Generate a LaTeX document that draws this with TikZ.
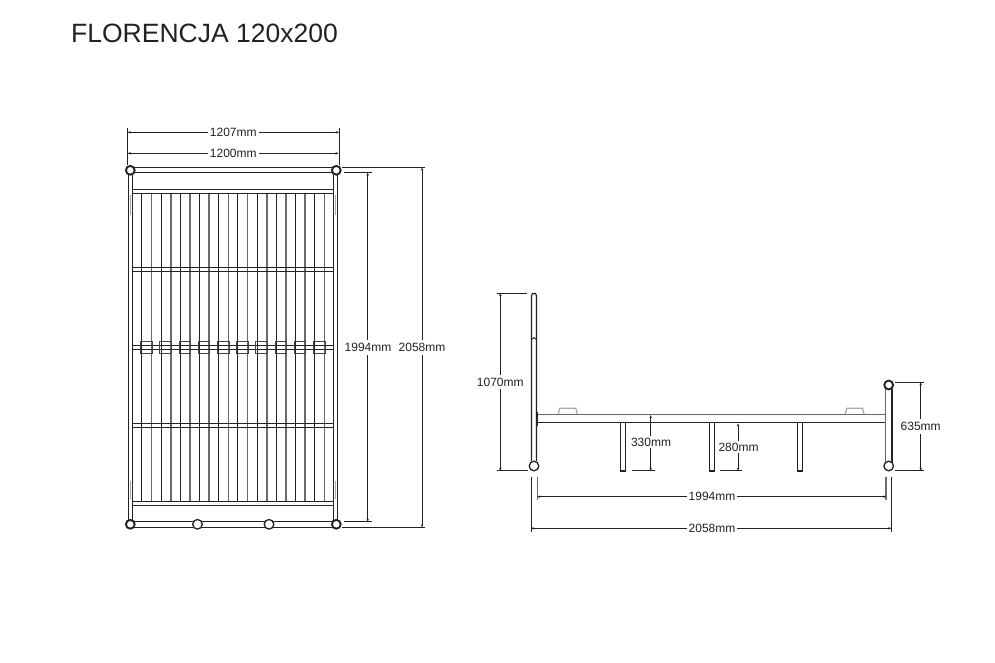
\documentclass[tikz,border=0pt]{standalone}
\usepackage{fontspec}
\setmainfont{Liberation Sans}
\usetikzlibrary{arrows.meta}
\definecolor{ink}{HTML}{222222}
\definecolor{midgray}{HTML}{6A6A6A}
\definecolor{softgray}{HTML}{A8A8A8}
\tikzset{
  part/.style={draw=ink,line width=1.1pt},
  thinpart/.style={draw=ink,line width=0.95pt},
  graypart/.style={draw=midgray,line width=1.6pt},
  softpart/.style={draw=softgray,line width=1.2pt},
  dim/.style={draw=ink,line width=0.95pt},
  dimtip/.style={dim,{Stealth[length=3pt,width=2.4pt]}-{Stealth[length=3pt,width=2.4pt]}},
  dimlabel/.style={fill=white,inner xsep=2pt,inner ysep=3pt,font=\fontsize{12}{12}\selectfont,text=ink},
  joint/.style={draw=ink,line width=1.3pt,fill=white,circle,minimum size=9.6pt,inner sep=0pt},
  heavyjoint/.style={draw=ink,line width=1.9pt,fill=white,circle,minimum size=8.8pt,inner sep=0pt},
  clip part/.style={draw=ink!85,line width=0.9pt,fill=none},
}
\begin{document}
\begin{tikzpicture}[x=1pt,y=-1pt]
\useasboundingbox (0,0) rectangle (995,663);
\node[anchor=west,inner sep=0pt,font=\fontsize{26.5}{27}\selectfont,text=ink] (title) at (71,33) {FLORENCJA 120x200};

% ---------- plan view ----------
% slats
\foreach \i in {1,...,20}{
  \pgfmathsetmacro{\sx}{132.3+9.6*\i}
  \pgfmathtruncatemacro{\odd}{mod(\i,2)}
  \ifnum\odd=1
    \draw[thinpart] (\sx,193.3) -- (\sx,501.7);
  \else
    \draw[graypart] (\sx,193.3) -- (\sx,501.7);
  \fi
}
% outer frame
\draw[part] (128.5,170) -- (128.5,524);
\draw[part] (132.5,172.7) -- (132.5,521.7);
\draw[part] (333.5,172.7) -- (333.5,521.7);
\draw[part] (337.5,170) -- (337.5,524);
\draw[part] (130,167.5) -- (336.5,167.5);
\draw[part] (130,172.5) -- (336.5,172.5);
\draw[part] (130,521.5) -- (336.5,521.5);
\draw[part] (130,527.5) -- (336.5,527.5);
% head and foot bars
\draw[part] (132.5,189.5) -- (333.5,189.5);
\draw[part] (132.5,193.5) -- (333.5,193.5);
\draw[part] (132.5,501.5) -- (333.5,501.5);
\draw[part] (132.5,505.5) -- (333.5,505.5);
% cross bars
\draw[part] (132.5,267.5) -- (333.5,267.5);
\draw[part] (132.5,271.5) -- (333.5,271.5);
\draw[part] (132.5,345.5) -- (333.5,345.5);
\draw[part] (132.5,349.5) -- (333.5,349.5);
\draw[part] (132.5,423.5) -- (333.5,423.5);
\draw[part] (132.5,427.5) -- (333.5,427.5);
% clips
\foreach \i in {0,...,9}{
  \pgfmathsetmacro{\cx}{146.5+19.2*\i}
  \draw[clip part] (\cx-5.8,341.7) rectangle (\cx+5.8,353.3);
}
% side marks
\draw[softpart] (130.5,195) -- (130.5,215);
\draw[softpart] (130.5,481) -- (130.5,499);
\draw[softpart] (335.5,195) -- (335.5,215);
\draw[softpart] (335.5,481) -- (335.5,499);
% corner and mid joints
\node[heavyjoint] (jointNW) at (130.3,170.3) {};
\node[heavyjoint] (jointNE) at (336.3,170.3) {};
\node[heavyjoint] (jointSW) at (130.3,524.3) {};
\node[heavyjoint] (jointSE) at (336.3,524.3) {};
\node[joint] (jointA) at (197.5,524.3) {};
\node[joint] (jointB) at (269,524.3) {};

% plan dimensions
\draw[dim] (127.7,128) -- (127.7,165);
\draw[dim] (339,128) -- (339,165);
\draw[dimtip] (127.7,132.3) -- (339,132.3);
\draw[dimtip] (127.7,153.3) -- (338.5,153.3);
\node[dimlabel] (w1207) at (233.3,132.3) {1207mm};
\node[dimlabel] (w1200) at (233.3,153.3) {1200mm};
\draw[dim] (342.3,167.7) -- (425,167.7);
\draw[dim] (342.3,527.3) -- (425,527.3);
\draw[dimtip] (422,167.7) -- (422,527.3);
\draw[dim] (344.3,172.7) -- (371.7,172.7);
\draw[dim] (344.3,521.7) -- (371.7,521.7);
\draw[dimtip] (367.7,172.7) -- (367.7,521.7);
\node[dimlabel,inner xsep=0.5pt] (l1994) at (368,347.5) {1994mm};
\node[dimlabel,inner xsep=0.5pt] (l2058) at (422,347.5) {2058mm};

% ---------- side view ----------
% head post
\draw[part,rounded corners=2.6pt] (531.5,461) -- (531.5,293.3) -- (536.5,293.3) -- (536.5,461);
\draw[thinpart] (531.5,339.5) .. controls (532.5,337) and (535.5,337) .. (536.5,339.5);
% side rail
\draw[graypart] (537,414.3) -- (886,414.3);
\draw[part,line width=1.5pt] (537,422.7) -- (886,422.7);
\draw[part,line width=1.6pt] (537.6,412) -- (537.6,426);
\draw[part,line width=1.6pt] (885.6,410) -- (885.6,426.7);
% handles
\draw[softpart] (558.3,414) -- (559.8,408.3) -- (575.8,408.3) -- (577.3,414);
\draw[softpart] (845.3,414) -- (846.8,408.3) -- (862.5,408.3) -- (864,414);
% legs
\foreach \lx in {620.5,709.5,797.5}{
  \draw[part] (\lx,423) -- (\lx,471) -- (\lx+5,471) -- (\lx+5,423);
}
% foot post
\draw[graypart] (885.6,389) -- (885.6,462);
\draw[part,line width=1.3pt] (892,389) -- (892,462);
\node[joint] (headfoot) at (534,466) {};
\node[heavyjoint] (posttop) at (888.7,385) {};
\node[joint] (postfoot) at (888.7,466) {};

% side dimensions
\draw[dim] (496.7,293) -- (527.3,293);
\draw[dim] (496.7,470.7) -- (528.3,470.7);
\draw[dimtip] (500.3,293) -- (500.3,470.7);
\node[dimlabel] (h1070) at (500.3,382) {1070mm};
\draw[dim] (631.7,470.7) -- (655,470.7);
\draw[dimtip] (650.7,415) -- (650.7,470.7);
\node[dimlabel,inner ysep=2pt] (h330) at (651,442) {330mm};
\draw[dim] (720,470.7) -- (742,470.7);
\draw[dimtip] (738,423.5) -- (738,470.7);
\node[dimlabel,inner ysep=2pt] (h280) at (738.5,447) {280mm};
\draw[dim] (895,382.3) -- (924,382.3);
\draw[dim] (895,470.7) -- (924,470.7);
\draw[dimtip] (920.7,382.3) -- (920.7,470.7);
\node[dimlabel] (h635) at (920.7,426.7) {635mm};
\draw[softpart,draw=midgray] (537.3,477.3) -- (537.3,500);
\draw[softpart,draw=midgray] (886,477.3) -- (886,500);
\draw[dimtip] (537.3,496.7) -- (886,496.7);
\node[dimlabel] (w1994) at (712,496.7) {1994mm};
\draw[dim] (531,477.3) -- (531,532);
\draw[dim] (891.3,477.3) -- (891.3,532);
\draw[dimtip] (531,528.3) -- (891.3,528.3);
\node[dimlabel] (w2058) at (712,528.3) {2058mm};
\end{tikzpicture}
\end{document}
